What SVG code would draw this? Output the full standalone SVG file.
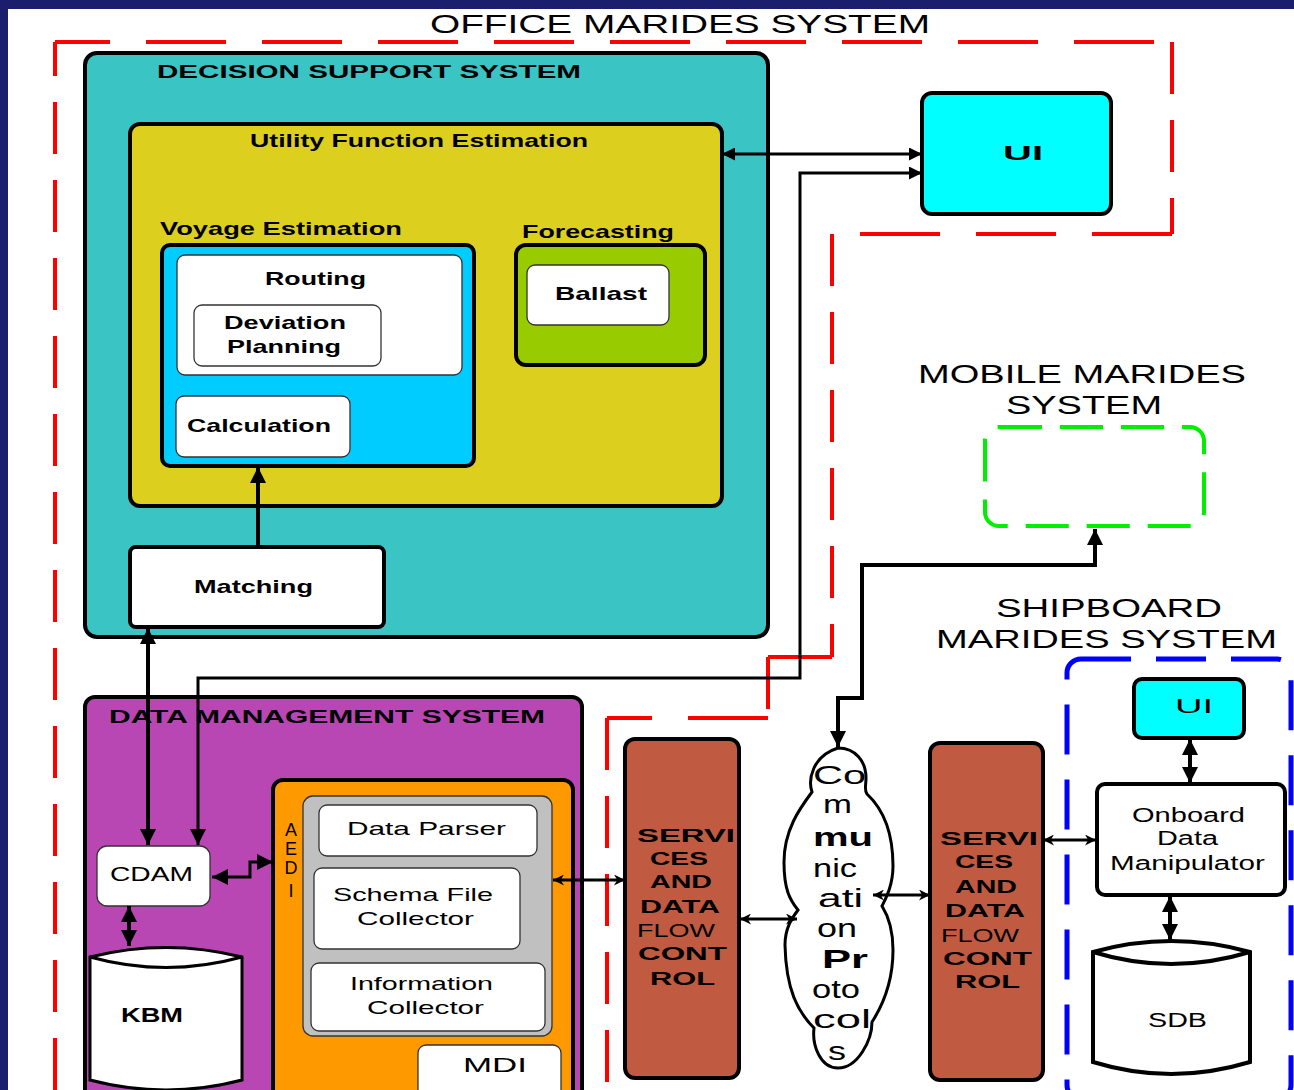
<svg xmlns="http://www.w3.org/2000/svg" width="1294" height="1090" viewBox="0 0 1294 1090">
  <defs>
    <style>
      .t { font-family: "Liberation Sans", Arial, sans-serif; fill: #000; }
      .b { font-weight: bold; }
      .box { stroke: #000; stroke-width: 4; }
      .inner { fill: #fff; stroke: #333; stroke-width: 1.3; }
      .wire { fill: none; stroke: #000; stroke-width: 4; }
      .wire-thin { fill: none; stroke: #000; stroke-width: 3; }
      .redh { fill: none; stroke: #ff0000; stroke-width: 4; stroke-dasharray: 80 36; }
      .redv { fill: none; stroke: #ff0000; stroke-width: 4; stroke-dasharray: 52 26; }
    </style>
    <marker id="ah" viewBox="0 0 10 10" refX="10" refY="5" markerWidth="18" markerHeight="16" markerUnits="userSpaceOnUse" orient="auto-start-reverse">
      <path d="M0,0 L10,5 L0,10 z" fill="#000"/>
    </marker>
    <marker id="ahw" viewBox="0 0 10 10" refX="10" refY="5" markerWidth="22" markerHeight="13" markerUnits="userSpaceOnUse" orient="auto-start-reverse">
      <path d="M0,0 L10,5 L0,10 z" fill="#000"/>
    </marker>
    <marker id="ahs" viewBox="0 0 10 10" refX="10" refY="5" markerWidth="15" markerHeight="11" markerUnits="userSpaceOnUse" orient="auto-start-reverse">
      <path d="M0,0 L10,5 L0,10 L3,5 z" fill="#000"/>
    </marker>
  </defs>

  <!-- page frame -->
  <rect x="0" y="0" width="1294" height="1090" fill="#1b1e6c"/>
  <rect x="8" y="9" width="1286" height="1081" fill="#ffffff"/>

  <!-- office boundary (red dashed) -->
  <g id="office-boundary">
    <path class="redv" d="M55,1090 V42"/>
    <path class="redh" d="M55,42 H1172" stroke-dashoffset="25"/>
    <path class="redv" d="M1172,42 V234"/>
    <path class="redh" d="M1172,234 H832"/>
    <path class="redv" d="M832,234 V657"/>
    <path class="redh" d="M832,657 H768"/>
    <path class="redv" d="M768,657 V718"/>
    <path class="redh" d="M768,718 H607"/>
    <path class="redv" d="M607,718 V1090"/>
    <rect x="425" y="10" width="510" height="30" fill="#fff"/>
    <text class="t" x="430" y="33" font-size="26" textLength="500" lengthAdjust="spacingAndGlyphs">OFFICE MARIDES SYSTEM</text>
  </g>

  <!-- decision support system -->
  <g id="dss">
    <rect class="box" x="85" y="53" width="683" height="584" rx="12" fill="#3ac4c4"/>
    <text class="t b" x="157" y="78" font-size="19" textLength="424" lengthAdjust="spacingAndGlyphs">DECISION SUPPORT SYSTEM</text>
  </g>

  <g id="utility">
    <rect class="box" x="130" y="124" width="592" height="382" rx="10" fill="#dccf1e"/>
    <text class="t b" x="250" y="147" font-size="19" textLength="338" lengthAdjust="spacingAndGlyphs">Utility Function Estimation</text>
  </g>

  <g id="voyage">
    <text class="t b" x="160" y="235" font-size="19" textLength="242" lengthAdjust="spacingAndGlyphs">Voyage Estimation</text>
    <rect class="box" x="162" y="245" width="312" height="221" rx="8" fill="#00ccff"/>
  </g>

  <g id="routing">
    <rect class="inner" x="177" y="255" width="285" height="120" rx="8"/>
    <text class="t b" x="265" y="285" font-size="19" textLength="101" lengthAdjust="spacingAndGlyphs">Routing</text>
  </g>

  <g id="deviation">
    <rect class="inner" x="194" y="305" width="187" height="61" rx="8"/>
    <text class="t b" x="224" y="329" font-size="19" textLength="122" lengthAdjust="spacingAndGlyphs">Deviation</text>
    <text class="t b" x="227" y="353" font-size="19" textLength="114" lengthAdjust="spacingAndGlyphs">Planning</text>
  </g>

  <g id="calculation">
    <rect class="inner" x="176" y="396" width="174" height="61" rx="8"/>
    <text class="t b" x="187" y="432" font-size="19" textLength="144" lengthAdjust="spacingAndGlyphs">Calculation</text>
  </g>

  <g id="forecasting">
    <text class="t b" x="522" y="238" font-size="19" textLength="152" lengthAdjust="spacingAndGlyphs">Forecasting</text>
    <rect class="box" x="516" y="245" width="189" height="120" rx="10" fill="#99cc00"/>
  </g>

  <g id="ballast">
    <rect class="inner" x="527" y="265" width="142" height="60" rx="8"/>
    <text class="t b" x="555" y="300" font-size="19" textLength="92" lengthAdjust="spacingAndGlyphs">Ballast</text>
  </g>

  <g id="matching">
    <rect class="box" x="130" y="547" width="254" height="80" rx="6" fill="#fff" stroke-width="3"/>
    <text class="t b" x="194" y="593" font-size="19" textLength="119" lengthAdjust="spacingAndGlyphs">Matching</text>
  </g>

  <!-- office user interface -->
  <g id="office-ui">
    <rect class="box" x="922" y="93" width="189" height="121" rx="10" fill="#00ffff" stroke-width="5"/>
    <text class="t b" x="1003" y="160" font-size="21" textLength="40" lengthAdjust="spacingAndGlyphs">UI</text>
  </g>

  <!-- data management system -->
  <g id="dms">
    <rect class="box" x="85" y="697" width="497" height="420" rx="10" fill="#b847b4"/>
    <text class="t b" x="109" y="723" font-size="19" textLength="436" lengthAdjust="spacingAndGlyphs">DATA MANAGEMENT SYSTEM</text>
  </g>

  <g id="cdam">
    <rect class="inner" x="97" y="846" width="113" height="60" rx="10"/>
    <text class="t" x="110" y="881" font-size="20" textLength="83" lengthAdjust="spacingAndGlyphs">CDAM</text>
  </g>

  <g id="kbm">
    <path d="M90,957 Q166,938 242,957 V1080 Q166,1100 90,1080 Z" fill="#fff" stroke="#000" stroke-width="3"/>
    <path d="M90,957 Q166,978 242,957" fill="none" stroke="#000" stroke-width="3"/>
    <text class="t b" x="121" y="1022" font-size="20" textLength="62" lengthAdjust="spacingAndGlyphs">KBM</text>
  </g>

  <g id="aedi">
    <rect class="box" x="273" y="780" width="300" height="340" rx="10" fill="#ff9900"/>
    <g class="t" font-size="18" fill="#6b3e00" text-anchor="middle">
      <text x="291" y="836">A</text>
      <text x="291" y="855">E</text>
      <text x="291" y="874">D</text>
      <text x="291" y="897">I</text>
    </g>
    <rect x="303" y="796" width="249" height="240" rx="10" fill="#c0c0c0" stroke="#333" stroke-width="1.3"/>
  </g>

  <g id="data-parser">
    <rect class="inner" x="319" y="805" width="218" height="51" rx="8"/>
    <text class="t" x="347" y="835" font-size="19" textLength="159" lengthAdjust="spacingAndGlyphs">Data Parser</text>
  </g>

  <g id="schema-collector">
    <rect class="inner" x="314" y="868" width="206" height="81" rx="8"/>
    <text class="t" x="333" y="901" font-size="19" textLength="160" lengthAdjust="spacingAndGlyphs">Schema File</text>
    <text class="t" x="357" y="925" font-size="19" textLength="117" lengthAdjust="spacingAndGlyphs">Collector</text>
  </g>

  <g id="info-collector">
    <rect class="inner" x="311" y="963" width="234" height="68" rx="8"/>
    <text class="t" x="350" y="990" font-size="19" textLength="143" lengthAdjust="spacingAndGlyphs">Information</text>
    <text class="t" x="367" y="1014" font-size="19" textLength="117" lengthAdjust="spacingAndGlyphs">Collector</text>
  </g>

  <g id="mdi">
    <rect class="inner" x="418" y="1045" width="143" height="60" rx="8"/>
    <text class="t" x="463" y="1072" font-size="20" textLength="64" lengthAdjust="spacingAndGlyphs">MDI</text>
  </g>

  <!-- services and data flow control, office side -->
  <g id="services-office">
    <rect class="box" x="625" y="739" width="114" height="339" rx="10" fill="#c05a40"/>
    <g class="t" font-size="19">
      <text class="b" x="637" y="842" textLength="98" lengthAdjust="spacingAndGlyphs">SERVI</text>
      <text class="b" x="650" y="865" textLength="58" lengthAdjust="spacingAndGlyphs">CES</text>
      <text class="b" x="650" y="888" textLength="62" lengthAdjust="spacingAndGlyphs">AND</text>
      <text class="b" x="640" y="913" textLength="80" lengthAdjust="spacingAndGlyphs">DATA</text>
      <text x="637" y="937" textLength="78" lengthAdjust="spacingAndGlyphs">FLOW</text>
      <text class="b" x="638" y="960" textLength="89" lengthAdjust="spacingAndGlyphs">CONT</text>
      <text class="b" x="650" y="985" textLength="65" lengthAdjust="spacingAndGlyphs">ROL</text>
    </g>
  </g>

  <!-- communication protocols -->
  <g id="comm-protocols">
    <path d="M838,748 C856,748 866,762 866,778 C866,786 864,790 867,794 C882,808 893,830 893,866 C893,885 886,898 882,906 C887,914 893,928 893,950 C893,985 881,1008 872,1022 C872,1040 858,1068 838,1068 C820,1068 812,1045 814,1028 C798,1012 786,990 785,945 C785,928 792,918 798,910 C790,900 784,890 784,862 C784,830 800,808 812,792 C808,780 812,756 838,748 Z" fill="#fff" stroke="#000" stroke-width="3"/>
    <g class="t" font-size="26">
      <text x="813" y="784" textLength="53" lengthAdjust="spacingAndGlyphs">Co</text>
      <text x="823" y="813" textLength="29" lengthAdjust="spacingAndGlyphs">m</text>
      <text class="b" x="813" y="846" textLength="60" lengthAdjust="spacingAndGlyphs">mu</text>
      <text x="813" y="877" textLength="44" lengthAdjust="spacingAndGlyphs">nic</text>
      <text x="818" y="907" textLength="45" lengthAdjust="spacingAndGlyphs">ati</text>
      <text x="817" y="937" textLength="40" lengthAdjust="spacingAndGlyphs">on</text>
      <text class="b" x="822" y="968" textLength="46" lengthAdjust="spacingAndGlyphs">Pr</text>
      <text x="812" y="998" textLength="48" lengthAdjust="spacingAndGlyphs">oto</text>
      <text x="813" y="1028" textLength="58" lengthAdjust="spacingAndGlyphs">col</text>
      <text x="828" y="1060" textLength="18" lengthAdjust="spacingAndGlyphs">s</text>
    </g>
  </g>

  <!-- services and data flow control, ship side -->
  <g id="services-ship">
    <rect class="box" x="930" y="743" width="113" height="337" rx="10" fill="#c05a40"/>
    <g class="t" font-size="19">
      <text class="b" x="940" y="845" textLength="98" lengthAdjust="spacingAndGlyphs">SERVI</text>
      <text class="b" x="955" y="868" textLength="58" lengthAdjust="spacingAndGlyphs">CES</text>
      <text class="b" x="955" y="893" textLength="62" lengthAdjust="spacingAndGlyphs">AND</text>
      <text class="b" x="945" y="917" textLength="80" lengthAdjust="spacingAndGlyphs">DATA</text>
      <text x="941" y="942" textLength="78" lengthAdjust="spacingAndGlyphs">FLOW</text>
      <text class="b" x="943" y="965" textLength="89" lengthAdjust="spacingAndGlyphs">CONT</text>
      <text class="b" x="955" y="988" textLength="65" lengthAdjust="spacingAndGlyphs">ROL</text>
    </g>
  </g>

  <!-- mobile system -->
  <g id="mobile">
    <text class="t" x="918" y="383" font-size="25" textLength="328" lengthAdjust="spacingAndGlyphs">MOBILE MARIDES</text>
    <text class="t" x="1006" y="414" font-size="25" textLength="156" lengthAdjust="spacingAndGlyphs">SYSTEM</text>
    <rect x="985" y="427" width="219" height="99" rx="14" fill="none" stroke="#00ee00" stroke-width="4" stroke-dasharray="43 18"/>
  </g>

  <!-- shipboard system -->
  <g id="shipboard">
    <text class="t" x="996" y="617" font-size="25" textLength="226" lengthAdjust="spacingAndGlyphs">SHIPBOARD</text>
    <text class="t" x="936" y="648" font-size="25" textLength="341" lengthAdjust="spacingAndGlyphs">MARIDES SYSTEM</text>
    <rect x="1067" y="659" width="224" height="440" rx="14" fill="none" stroke="#0000ff" stroke-width="5" stroke-dasharray="50 25"/>
  </g>

  <g id="ship-ui">
    <rect class="box" x="1134" y="679" width="110" height="59" rx="8" fill="#00ffff"/>
    <text class="t" x="1175" y="713" font-size="20" textLength="38" lengthAdjust="spacingAndGlyphs">UI</text>
  </g>

  <g id="onboard">
    <rect class="box" x="1097" y="784" width="188" height="111" rx="8" fill="#fff"/>
    <text class="t" x="1132" y="822" font-size="20" textLength="113" lengthAdjust="spacingAndGlyphs">Onboard</text>
    <text class="t" x="1157" y="845" font-size="20" textLength="61" lengthAdjust="spacingAndGlyphs">Data</text>
    <text class="t" x="1110" y="870" font-size="20" textLength="155" lengthAdjust="spacingAndGlyphs">Manipulator</text>
  </g>

  <g id="sdb">
    <path d="M1093,952 Q1171,930 1250,952 V1062 Q1171,1086 1093,1062 Z" fill="#fff" stroke="#000" stroke-width="4"/>
    <path d="M1093,952 Q1171,976 1250,952" fill="none" stroke="#000" stroke-width="4"/>
    <text class="t" x="1148" y="1027" font-size="20" textLength="59" lengthAdjust="spacingAndGlyphs">SDB</text>
  </g>

  <!-- connectors -->
  <g id="connectors">
    <path class="wire-thin" d="M722,154 H922" marker-start="url(#ahw)" marker-end="url(#ahw)"/>
    <path class="wire-thin" d="M922,173 H800 V678 H198 V845" marker-start="url(#ahw)" marker-end="url(#ah)"/>
    <path class="wire" d="M258,547 V467" marker-end="url(#ah)"/>
    <path class="wire" d="M148,628 V845" marker-start="url(#ah)" marker-end="url(#ah)"/>
    <path class="wire" d="M129,906 V946" marker-start="url(#ah)" marker-end="url(#ah)"/>
    <path class="wire-thin" d="M212,877 H250 V862 H273" marker-start="url(#ah)" marker-end="url(#ah)"/>
    <path class="wire-thin" d="M553,880 H625" marker-start="url(#ahs)" marker-end="url(#ahs)"/>
    <path class="wire-thin" d="M740,919 H797" marker-start="url(#ahs)" marker-end="url(#ahs)"/>
    <path class="wire-thin" d="M873,895 H930" marker-start="url(#ahs)" marker-end="url(#ahs)"/>
    <path class="wire-thin" d="M1043,840 H1096" marker-start="url(#ahs)" marker-end="url(#ahs)"/>
    <path class="wire" d="M1190,739 V783" marker-start="url(#ah)" marker-end="url(#ah)"/>
    <path class="wire" d="M1170,896 V940" marker-start="url(#ah)" marker-end="url(#ah)"/>
    <path class="wire" d="M1095,529 V565 H862 V698 H838 V747" marker-start="url(#ah)" marker-end="url(#ah)"/>
  </g>
</svg>
